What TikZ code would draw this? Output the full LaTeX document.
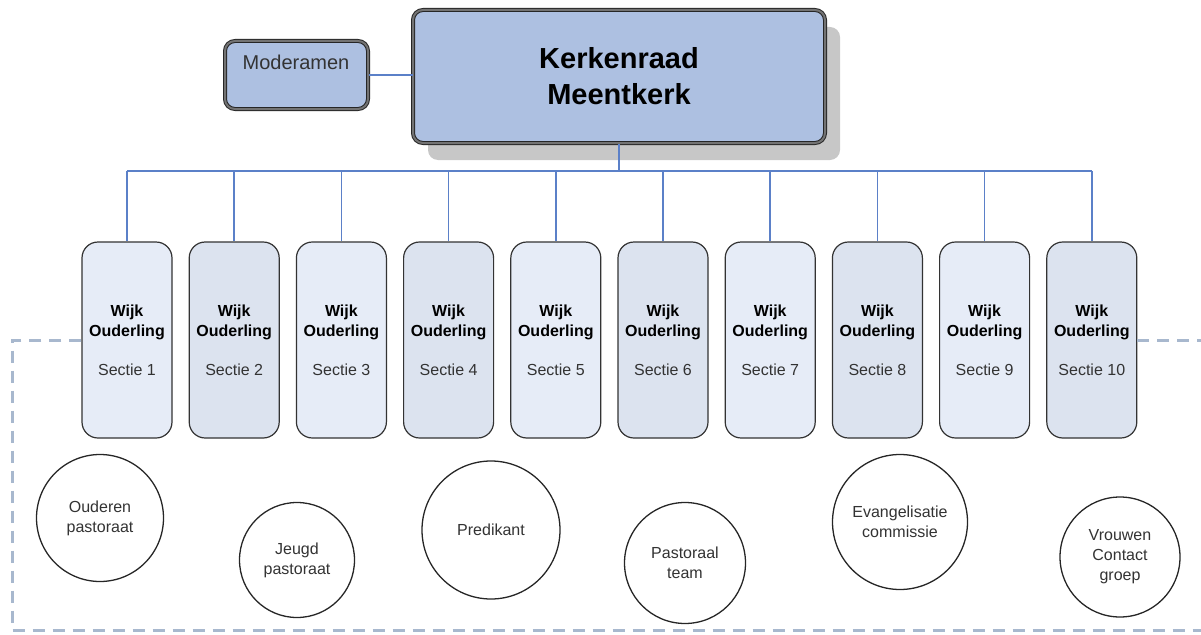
\documentclass[tikz,border=0pt]{standalone}
\usepackage{fontspec}
\setmainfont{Liberation Sans}
\usetikzlibrary{shadows}
\definecolor{krfill}{HTML}{ADC0E1}
\definecolor{lightA}{HTML}{E6ECF7}
\definecolor{lightB}{HTML}{DCE3EF}
\definecolor{conn}{HTML}{5B80C8}
\definecolor{dashc}{HTML}{A8B8CE}
\definecolor{txt}{HTML}{333333}
\tikzset{
  conline/.style={draw=conn, line width=1.5pt},
  dashline/.style={draw=dashc, line width=3pt, dash pattern=on 12pt off 8pt},
  boxdouble/.style={draw=black!85, line width=1pt, double=black!55, double distance=2pt, rounded corners=10pt, fill=krfill},
  sectbox/.style={draw=black!80, line width=1.2pt, rounded corners=16pt, minimum width=90pt, minimum height=196pt, align=center, inner sep=0pt, font=\fontsize{16}{20}\selectfont},
  roundel/.style={draw=black!85, line width=1.3pt, circle, fill=white, align=center, inner sep=0pt, text=txt, font=\fontsize{16}{20}\selectfont},
}
\newcommand{\sect}[1]{\textbf{Wijk}\\\textbf{Ouderling}\\[19pt]\textcolor{txt}{Sectie #1}}
\begin{document}
\begin{tikzpicture}[x=1pt,y=-1pt]
\useasboundingbox (0,0) rectangle (1201,634);
% top boxes
\node[boxdouble, minimum width=412pt, minimum height=133pt, align=center, inner sep=0pt,
      drop shadow={shadow xshift=15pt, shadow yshift=-17pt, fill=black!22, opacity=1},
      font=\fontsize{29}{36}\selectfont\bfseries] (kr) at (619,76.5) {Kerkenraad\\Meentkerk};
\node[boxdouble, minimum width=143pt, minimum height=68pt] (mod) at (296.5,75) {};
\node[font=\fontsize{20}{24}\selectfont, text=txt] (modtxt) at (296,62) {Moderamen};
\draw[conline] (mod.east) -- (kr.west |- mod.east);
% sections
\foreach \i [evaluate=\i as \xx using {127+(\i-1)*107.2}] in {1,...,10}{
  \pgfmathsetmacro{\odd}{mod(\i,2)}
  \ifdim\odd pt=1pt
    \node[sectbox, fill=lightA] (s\i) at (\xx,340) {\sect{\i}};
  \else
    \node[sectbox, fill=lightB] (s\i) at (\xx,340) {\sect{\i}};
  \fi
}
\coordinate (bus) at (619,171);
\draw[conline] (kr.south) -- (bus);
\draw[conline] (s1.north |- bus) -- (s10.north |- bus);
\foreach \i in {1,...,10}{
  \draw[conline] (s\i.north |- bus) -- (s\i.north);
}
% dashed boundary
\coordinate (dl) at (12,340);
\coordinate (dbl) at (12,630);
\coordinate (dbr) at (1205,630);
\coordinate (dr) at (1205,340);
\draw[dashline] (s1.west) -- (dl) -- (dbl) -- (dbr);
\draw[dashline] (s10.east) -- (dr);
% circles
\node[roundel, minimum size=127pt] (c1) at (100,518) {Ouderen\\pastoraat};
\node[roundel, minimum size=115pt] (c2) at (297,560) {Jeugd\\pastoraat};
\node[roundel, minimum size=138pt] (c3) at (491,530) {Predikant};
\node[roundel, minimum size=121pt] (c4) at (685,563) {Pastoraal\\team};
\node[roundel, minimum size=135pt] (c5) at (900,522) {Evangelisatie\\commissie};
\node[roundel, minimum size=120pt] (c6) at (1120,557) {Vrouwen\\Contact\\groep};
\end{tikzpicture}
\end{document}
